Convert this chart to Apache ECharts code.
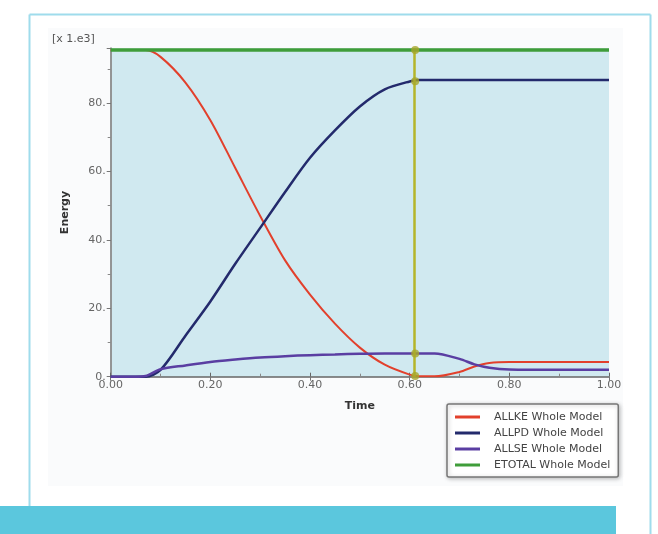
<!DOCTYPE html>
<html>
<head>
<meta charset="utf-8">
<script src="https://cdn.jsdelivr.net/npm/echarts@6/dist/echarts.min.js"></script>
<style>html,body{margin:0;padding:0;background:#fff}#c{width:658px;height:534px}</style>
</head>
<body>
<div id="c"></div>
<script>
// ---- data (energy in units of 1e3) ----
const time   = [0, 0.05, 0.07, 0.10, 0.15, 0.20, 0.25, 0.30, 0.35, 0.40, 0.45, 0.50, 0.55, 0.60, 0.62, 0.65, 0.70, 0.73, 0.76, 0.80, 0.90, 1.00];
const allke  = [95.5, 95.5, 95.5, 93.5, 86, 75, 61, 47, 34, 24, 15.5, 8.5, 3.5, 0.6, 0.1, 0.1, 1.4, 3.0, 4.0, 4.3, 4.3, 4.3];
const allpd  = [0, 0, 0, 2.0, 12, 22, 33, 43.5, 54, 64, 72, 79, 84, 86.3, 86.7, 86.7, 86.7, 86.7, 86.7, 86.7, 86.7, 86.7];
const allse  = [0, 0, 0.2, 2.2, 3.3, 4.3, 5.0, 5.6, 6.0, 6.3, 6.5, 6.7, 6.8, 6.8, 6.8, 6.8, 5.2, 3.6, 2.6, 2.1, 2.0, 2.0];
const etotal = [95.5, 95.5, 95.5, 95.5, 95.5, 95.5, 95.5, 95.5, 95.5, 95.5, 95.5, 95.5, 95.5, 95.5, 95.5, 95.5, 95.5, 95.5, 95.5, 95.5, 95.5, 95.5];
const seriesNames = ['ALLKE Whole Model', 'ALLPD Whole Model', 'ALLSE Whole Model', 'ETOTAL Whole Model'];
const cursorTime = 0.611;
const cursorValues = [95.5, 86.4, 6.8, 0.2];
const yTicks = [0, 20, 40, 60, 80];
const xTicks = [0, 0.2, 0.4, 0.6, 0.8, 1.0];

const colors = ['#e2402c', '#232a6c', '#5a3ea2', '#3f9d3a'];
const widths = [2, 2.5, 2.5, 3.5];
const seriesData = [allke, allpd, allse, etotal];

const pair = arr => time.map((t, i) => [t, arr[i]]);
const FONT = 'DejaVu Sans';

const chart = echarts.init(document.getElementById('c'), null, {renderer: 'canvas'});

const series = seriesData.map((arr, k) => ({
  name: seriesNames[k],
  type: 'line',
  data: pair(arr),
  smooth: 0.3,
  showSymbol: false,
  symbol: 'none',
  lineStyle: {color: colors[k], width: widths[k]},
  itemStyle: {color: colors[k]},
  z: k === 3 ? 5 : 3,
  animation: false
}));

series.push({
  name: 'cursor',
  type: 'scatter',
  data: cursorValues.map(v => [cursorTime, v]),
  symbolSize: 8,
  itemStyle: {color: '#a8a82a'},
  z: 10,
  silent: true,
  animation: false,
  markLine: {
    silent: true,
    symbol: 'none',
    label: {show: false},
    lineStyle: {color: '#b5b52a', width: 2.5, type: 'solid'},
    data: [{xAxis: cursorTime}],
    animation: false
  }
});

chart.setOption({
  animation: false,
  backgroundColor: '#ffffff',
  textStyle: {fontFamily: FONT},
  graphic: [
    {type: 'rect', shape: {x: 48, y: 28, width: 575, height: 458}, style: {fill: '#fafbfc'}, z: -10, silent: true},
    {type: 'line', shape: {x1: 29.5, y1: 14.5, x2: 650.5, y2: 14.5}, style: {stroke: '#9fdcec', lineWidth: 2}, z: -5, silent: true},
    {type: 'line', shape: {x1: 29.5, y1: 14.5, x2: 29.5, y2: 534}, style: {stroke: '#9fdcec', lineWidth: 2}, z: -5, silent: true},
    {type: 'line', shape: {x1: 650.5, y1: 14.5, x2: 650.5, y2: 534}, style: {stroke: '#9fdcec', lineWidth: 2}, z: -5, silent: true},
    {type: 'rect', shape: {x: 0, y: 506, width: 616, height: 28}, style: {fill: '#5bc7dd'}, z: 100, silent: true},
    {type: 'text', left: 52, top: 34, style: {text: '[x 1.e3]', font: '11px ' + FONT, fill: '#555'}, silent: true}
  ],
  grid: {
    left: 110.7, right: 49, top: 48.3, bottom: 157.3,
    show: true, backgroundColor: '#d0e9f0', borderColor: 'transparent', borderWidth: 0
  },
  legend: {
    data: seriesNames,
    orient: 'vertical',
    left: 447, top: 404,
    padding: [7, 8, 6, 8],
    itemGap: 4,
    itemWidth: 25, itemHeight: 3,
    icon: 'rect',
    backgroundColor: '#ffffff',
    borderColor: '#777',
    borderWidth: 1.5,
    borderRadius: 2,
    shadowBlur: 4, shadowColor: 'rgba(0,0,0,0.25)', shadowOffsetX: 1, shadowOffsetY: 1,
    textStyle: {fontFamily: FONT, fontSize: 11, color: '#444', lineHeight: 12, padding: [0, 0, 0, 9]},
    selectedMode: false
  },
  xAxis: [{
    type: 'value', min: 0, max: 1, interval: 0.2,
    name: 'Time', nameLocation: 'middle', nameGap: 24,
    nameTextStyle: {fontFamily: FONT, fontSize: 11, fontWeight: 'bold', color: '#333'},
    axisLine: {show: true, onZero: false, lineStyle: {color: '#666', width: 1.5}},
    axisTick: {show: true, inside: true, length: 4, lineStyle: {color: '#666'}},
    minorTick: {show: true, splitNumber: 2, length: 3, lineStyle: {color: '#888'}},
    splitLine: {show: false},
    axisLabel: {fontFamily: FONT, fontSize: 11, color: '#666', margin: 3, formatter: v => xTicks.some(t => Math.abs(t - v) < 1e-6) ? v.toFixed(2) : ''}
  }, {
    type: 'value', min: 0, max: 1, interval: 0.2, position: 'top',
    axisLine: {show: false},
    axisTick: {show: true, inside: true, length: 4, lineStyle: {color: '#777'}},
    axisLabel: {show: false}, splitLine: {show: false}
  }],
  yAxis: [{
    type: 'value', min: 0, max: 96, interval: 20,
    name: 'Energy', nameLocation: 'middle', nameGap: 40, nameRotate: 90,
    nameTextStyle: {fontFamily: FONT, fontSize: 11, fontWeight: 'bold', color: '#333'},
    axisLine: {show: true, onZero: false, lineStyle: {color: '#666', width: 1.5}},
    axisTick: {show: true, inside: false, length: 3, lineStyle: {color: '#666'}},
    minorTick: {show: true, splitNumber: 2, length: 3, lineStyle: {color: '#888'}},
    splitLine: {show: false},
    axisLabel: {fontFamily: FONT, fontSize: 11, color: '#666', margin: 5, showMaxLabel: false,
      formatter: v => yTicks.indexOf(v) >= 0 ? v + '.' : ''}
  }, {
    type: 'value', min: 0, max: 96, interval: 20, position: 'right',
    axisLine: {show: true, lineStyle: {color: '#999', width: 1.5}},
    axisTick: {show: true, inside: true, length: 4, lineStyle: {color: '#777'}},
    axisLabel: {show: false}, splitLine: {show: false}
  }],
  series: series
});
</script>
</body>
</html>
